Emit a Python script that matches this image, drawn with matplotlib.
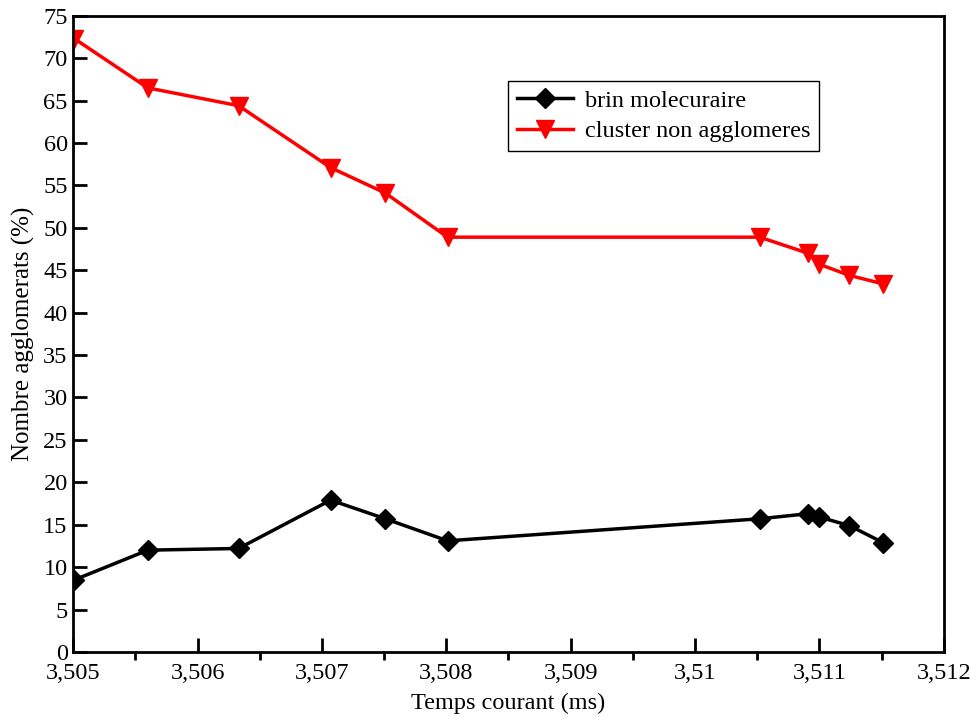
import matplotlib
matplotlib.use('Agg')
import matplotlib.pyplot as plt
from matplotlib.ticker import MultipleLocator, FuncFormatter

plt.rcParams['font.family'] = ['Liberation Serif', 'DejaVu Serif']

temps = [3.50501, 3.5056, 3.50633, 3.50707, 3.50751, 3.50801,
         3.51052, 3.51091, 3.5110, 3.51124, 3.51151]
brin = [8.5, 12.0, 12.2, 17.9, 15.7, 13.1, 15.7, 16.3, 15.9, 14.9, 12.9]
cluster = [72.3, 66.5, 64.4, 57.1, 54.1, 48.9, 48.9, 47.0, 45.7, 44.4, 43.4]

fig = plt.figure(figsize=(9.76, 7.18), dpi=100)
ax = fig.add_axes([0.075, 0.092, 0.892, 0.886])

ax.plot(temps, brin, color='black', lw=2.5, marker='D', ms=10,
        label='brin molecuraire')
ax.plot(temps, cluster, color='red', lw=2.5, marker='v', ms=13,
        label='cluster non agglomeres')

ax.set_xlim(3.505, 3.512)
ax.set_ylim(0, 75)
ax.xaxis.set_major_locator(MultipleLocator(0.001))
ax.xaxis.set_minor_locator(MultipleLocator(0.0005))
ax.yaxis.set_major_locator(MultipleLocator(5))


def fmt(v, pos):
    return ('%g' % round(v, 4)).replace('.', ',')


ax.xaxis.set_major_formatter(FuncFormatter(fmt))
ax.tick_params(axis='both', direction='in', labelsize=17.5, width=2)
ax.tick_params(axis='x', which='major', length=10, pad=8)
ax.tick_params(axis='x', which='minor', length=6, width=2)
ax.tick_params(axis='y', which='major', length=10, pad=4)
for s in ax.spines.values():
    s.set_linewidth(2)

ax.set_xlabel('Temps courant (ms)', fontsize=17.5, labelpad=6)
ax.set_ylabel('Nombre agglomerats (%)', fontsize=18, labelpad=6)

leg = ax.legend(loc='upper left', bbox_to_anchor=(0.5, 0.897), fontsize=17.5,
                fancybox=False, framealpha=1, edgecolor='black',
                borderpad=0.35, handlelength=2.3, labelspacing=0.35,
                handletextpad=0.5, borderaxespad=0)
leg.get_frame().set_linewidth(1)

fig.savefig('out.png', dpi=100)
